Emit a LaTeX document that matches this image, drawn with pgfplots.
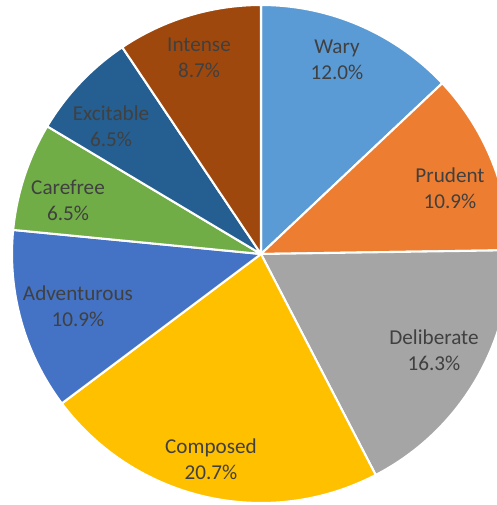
\documentclass[border=0pt]{standalone}
\usepackage{pgfplots}
\usepackage{pgfplotstable}
\pgfplotsset{compat=1.18}
\usepackage{fontspec}
\setmainfont{Carlito}
\definecolor{cWary}{HTML}{5B9BD5}
\definecolor{cPrudent}{HTML}{ED7D31}
\definecolor{cDeliberate}{HTML}{A5A5A5}
\definecolor{cComposed}{HTML}{FFC000}
\definecolor{cAdventurous}{HTML}{4472C4}
\definecolor{cCarefree}{HTML}{70AD47}
\definecolor{cExcitable}{HTML}{255E91}
\definecolor{cIntense}{HTML}{9E480E}
\definecolor{labelgray}{HTML}{404040}

% label  value  colour  label-x  label-y
\pgfplotstableread{
label       value col          lx   ly
Wary        12.0  cWary        337  445
Prudent     10.9  cPrudent     450  317
Deliberate  16.3  cDeliberate  434  155
Composed    20.7  cComposed    211  46
Adventurous 10.9  cAdventurous 78   199
Carefree    6.5   cCarefree    68   305
Excitable   6.5   cExcitable   111  379
Intense     8.7   cIntense     199  447
}\piedata

\begin{document}
\begin{tikzpicture}
\gdef\total{0}
\pgfplotstableforeachcolumnelement{value}\of\piedata\as\v{%
  \pgfmathparse{\total+\v}\xdef\total{\pgfmathresult}}
\begin{axis}[
  scale only axis, width=4.97in, height=5.05in,
  xmin=0, xmax=497, ymin=0, ymax=505,
  hide axis, clip=true,
]
\def\cx{261}\def\cy{251}\def\rad{2.49in}
\gdef\cum{0}
\pgfplotsforeachungrouped \i in {0,...,7}{%
  \pgfplotstablegetelem{\i}{value}\of\piedata \let\v\pgfplotsretval
  \pgfplotstablegetelem{\i}{col}\of\piedata \let\c\pgfplotsretval
  \pgfmathsetmacro\aS{90-\cum/\total*360}%
  \pgfmathsetmacro\aE{90-(\cum+\v)/\total*360}%
  \edef\tmp{\noexpand\fill[\c, draw=white, line width=1.5pt, line join=round]
    (axis cs:\cx,\cy) -- ([shift={(\aS:\rad)}]axis cs:\cx,\cy)
    arc[start angle=\aS, end angle=\aE, radius=\rad] -- cycle;}%
  \tmp
  \pgfmathparse{\cum+\v}\xdef\cum{\pgfmathresult}%
}
\pgfplotsforeachungrouped \i in {0,...,7}{%
  \pgfplotstablegetelem{\i}{value}\of\piedata \let\v\pgfplotsretval
  \pgfplotstablegetelem{\i}{label}\of\piedata \let\lab\pgfplotsretval
  \pgfplotstablegetelem{\i}{lx}\of\piedata \let\lx\pgfplotsretval
  \pgfplotstablegetelem{\i}{ly}\of\piedata \let\ly\pgfplotsretval
  \edef\tmp{\noexpand\node[align=center, text=labelgray,
      font=\noexpand\fontsize{15.3}{18.8}\noexpand\selectfont, inner sep=0pt]
    at (axis cs:\lx,\ly) {\lab\noexpand\\\v\noexpand\%};}%
  \tmp
}
\end{axis}
\pgfresetboundingbox
\useasboundingbox (current axis.south west) rectangle (current axis.north east);
\end{tikzpicture}
\end{document}
